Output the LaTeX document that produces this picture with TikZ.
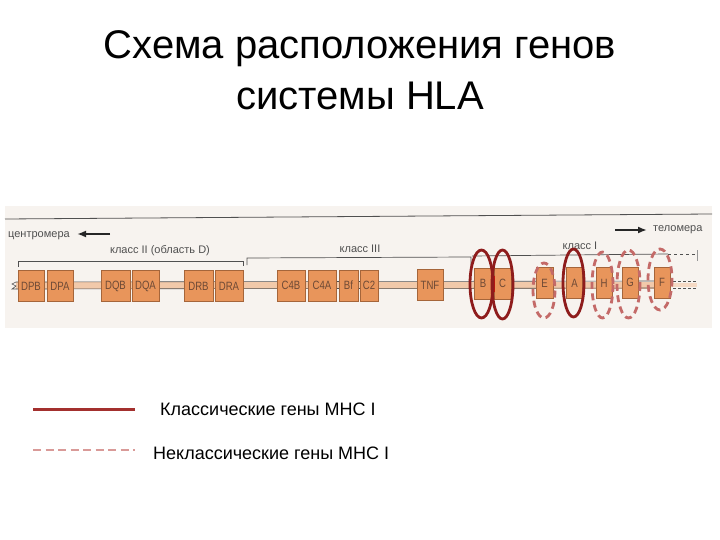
\documentclass[tikz,border=0pt]{standalone}
\usepackage{fontspec}
\usepackage{graphicx}
\setmainfont{Liberation Sans}
\usetikzlibrary{arrows.meta}
\definecolor{boxfill}{HTML}{E8955B}
\definecolor{boxdraw}{HTML}{A5653A}
\definecolor{boxtext}{HTML}{6E4A36}
\definecolor{panelbg}{HTML}{F7F3EF}
\definecolor{chromfill}{HTML}{F1C9AA}
\definecolor{inkgray}{HTML}{505050}
\definecolor{solidred}{HTML}{8E1C1C}
\definecolor{dashred}{HTML}{C46A68}
\definecolor{legsolid}{HTML}{A3302E}
\definecolor{legdash}{HTML}{D99A98}
\newcommand{\gtxt}[1]{\scalebox{0.8}[1]{#1}}
\tikzset{
  gene/.style={draw=boxdraw, fill=boxfill, line width=0.6pt, minimum height=31pt,
    inner sep=0pt, font=\fontsize{12}{12}\selectfont, text=boxtext},
  small/.style={font=\fontsize{11}{11}\selectfont, text=inkgray, inner sep=0pt},
  bracket/.style={draw=inkgray, line width=0.7pt},
  classic/.style={draw=solidred, line width=2.8pt},
  nonclassic/.style={draw=dashred, line width=2.8pt, dash pattern=on 7pt off 4.5pt},
  legtext/.style={font=\fontsize{18}{18}\selectfont, anchor=base west, inner sep=0pt},
  dirarrow/.style={-{Latex[length=9pt,width=7pt]}, line width=2pt, black!85},
}
\begin{document}
\begin{tikzpicture}[x=1pt,y=-1pt]
\useasboundingbox (0,0) rectangle (720,540);
\fill[white] (0,0) rectangle (720,540);
% title
\node[font=\fontsize{40}{40}\selectfont, anchor=base, inner sep=0pt] (t1) at (360,59) {Схема расположения генов};
\node[font=\fontsize{40}{40}\selectfont, anchor=base, inner sep=0pt] (t2) at (360,110) {системы HLA};
% panel
\fill[panelbg] (5,206) rectangle (712,328);
\draw[inkgray, line width=0.8pt] (5,219) -- (712,214);
% centromere / telomere
\node[small, anchor=base west] (cen) at (8,237) {центромера};
\coordinate (cenA) at (110,234);
\coordinate (cenB) at (77,234);
\draw[dirarrow] (cenA) -- (cenB);
\node[small, anchor=base west] (tel) at (653,232) {теломера};
\coordinate (telA) at (615,230);
\coordinate (telB) at (647,230);
\draw[dirarrow] (telA) -- (telB);
% class labels and brackets
\node[small, anchor=base] (c2) at (160,253) {класс II (область D)};
\draw[bracket] (18,267) -- (18,261) -- (243,261) -- (243,266);
\node[small, anchor=base] (c3) at (360,252) {класс III};
\draw[bracket] (247,265) -- (247,258) -- (471,257) -- (471,265);
\node[small, anchor=base] (c1) at (580,249) {класс I};
\draw[bracket] (472,256) -- (668,254);
\draw[bracket, dashed] (668,254) -- (696,254);
\draw[inkgray!60, line width=0.6pt] (697,250) -- (697,261);
% chromosome
\fill[chromfill] (16,282) rectangle (668,289);
\draw[inkgray, line width=0.6pt] (16,282) -- (668,281);
\draw[inkgray, line width=0.6pt] (16,289) -- (668,288);
\draw[inkgray, line width=0.6pt, densely dashed] (668,281) -- (697,281);
\draw[inkgray, line width=0.6pt, densely dashed] (668,288) -- (697,288);
\fill[chromfill!70] (670,283) rectangle (697,287);
\draw[inkgray, line width=0.6pt] (16,282) -- (12,284) -- (16,286) -- (12,289) -- (16,289);
% genes
\node[gene, minimum width=26pt] (DPB) at (31,286) {\gtxt{DPB}};
\node[gene, minimum width=26pt] (DPA) at (60,286) {\gtxt{DPA}};
\node[gene, minimum width=29pt] (DQB) at (115.5,286) {\gtxt{DQB}};
\node[gene, minimum width=27pt] (DQA) at (145.5,286) {\gtxt{DQA}};
\node[gene, minimum width=29pt] (DRB) at (198.5,286) {\gtxt{DRB}};
\node[gene, minimum width=28pt] (DRA) at (229,286) {\gtxt{DRA}};
\node[gene, minimum width=28pt] (C4B) at (291,285.5) {\gtxt{C4B}};
\node[gene, minimum width=28pt] (C4A) at (322,285.5) {\gtxt{C4A}};
\node[gene, minimum width=19pt] (Bf) at (348.5,285.5) {\gtxt{B{}f}};
\node[gene, minimum width=18pt] (C2) at (369,285.5) {\gtxt{C2}};
\node[gene, minimum width=26pt] (TNF) at (430,285) {\gtxt{TNF}};
\node[gene, minimum width=17pt] (B) at (483,283.5) {\gtxt{B}};
\node[gene, minimum width=17pt] (C) at (502.5,283.5) {\gtxt{C}};
\node[gene, minimum width=17pt] (E) at (544.5,283) {\gtxt{E}};
\node[gene, minimum width=16pt] (A) at (574.5,283) {\gtxt{A}};
\node[gene, minimum width=16pt] (H) at (604,283) {\gtxt{H}};
\node[gene, minimum width=16pt] (G) at (630,282.5) {\gtxt{G}};
\node[gene, minimum width=16pt] (F) at (662,282.5) {\gtxt{F}};
% ellipses
\fill[red!80!black, opacity=0.8] (492,276) rectangle (494.5,292);
\draw[classic] (481.5,284) ellipse [x radius=11.5, y radius=34];
\draw[classic] (502.5,284.5) ellipse [x radius=10.5, y radius=34.5];
\draw[nonclassic] (544,290.5) ellipse [x radius=11, y radius=27.5];
\draw[classic] (573.5,283) ellipse [x radius=10.5, y radius=34];
\draw[nonclassic] (602.5,285) ellipse [x radius=10.5, y radius=33];
\draw[nonclassic] (628.5,284) ellipse [x radius=11.5, y radius=34];
\draw[nonclassic] (660,279.5) ellipse [x radius=12, y radius=30.5];
% legend
\coordinate (l1a) at (33,409);
\coordinate (l1b) at (135,409);
\draw[legsolid, line width=3pt] (l1a) -- (l1b);
\node[legtext] (lt1) at (160,415.5) {Классические гены MHC I};
\coordinate (l2a) at (33,450);
\coordinate (l2b) at (135,450);
\draw[legdash, line width=1.6pt, dash pattern=on 8pt off 4.5pt] (l2a) -- (l2b);
\node[legtext] (lt2) at (153,459) {Неклассические гены MHC I};
\end{tikzpicture}
\end{document}
